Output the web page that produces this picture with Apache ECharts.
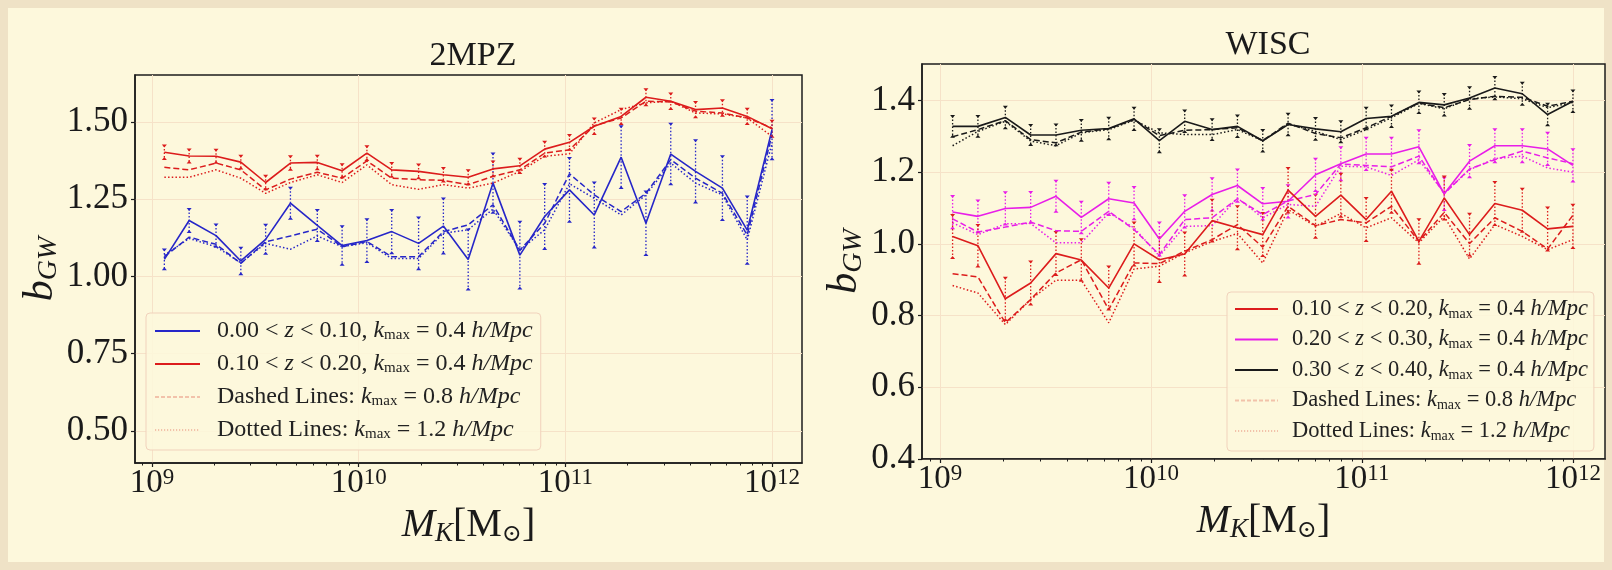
<!DOCTYPE html>
<html>
<head>
<meta charset="utf-8">
<script src="https://cdn.jsdelivr.net/npm/echarts@6/dist/echarts.min.js"></script>
<style>
html,body{margin:0;padding:0;background:#efe2c6;}
#frame{position:absolute;left:8px;top:8px;width:1596px;height:554px;background:#fdf8dc;}
#main{position:absolute;left:0;top:0;width:1612px;height:570px;}
</style>
</head>
<body>
<div id="frame"></div>
<div id="main"></div>
<script>
// ---------- data ----------
const logMass = [9.06, 9.18, 9.31, 9.43, 9.55, 9.67, 9.80, 9.92, 10.04, 10.16, 10.29, 10.41, 10.53,
                 10.65, 10.78, 10.90, 11.02, 11.14, 11.27, 11.39, 11.51, 11.63, 11.76, 11.88, 12.00];

// 2MPZ
const mpzBlueSolid  = [1.055,1.181,1.132,1.050,1.120,1.237,1.165,1.100,1.116,1.145,1.107,1.163,1.055,1.302,1.069,1.194,1.280,1.199,1.386,1.172,1.396,1.340,1.286,1.150,1.475];
const mpzBlueDashed = [1.064,1.127,1.104,1.042,1.112,1.131,1.153,1.096,1.113,1.064,1.064,1.145,1.167,1.232,1.085,1.172,1.332,1.264,1.210,1.269,1.378,1.318,1.269,1.134,1.459];
const mpzBlueDotted = [1.069,1.123,1.096,1.044,1.107,1.088,1.131,1.096,1.109,1.058,1.058,1.140,1.151,1.218,1.085,1.151,1.300,1.253,1.199,1.264,1.367,1.302,1.264,1.118,1.432];
const mpzBlueErr    = [0.032,0.037,0.036,0.043,0.047,0.050,0.050,0.062,0.069,0.070,0.084,0.089,0.097,0.096,0.108,0.105,0.103,0.105,0.100,0.103,0.098,0.101,0.103,0.109,0.096];
const mpzRedSolid   = [1.402,1.390,1.389,1.370,1.304,1.367,1.369,1.342,1.399,1.345,1.340,1.329,1.321,1.348,1.358,1.412,1.434,1.486,1.518,1.580,1.567,1.540,1.545,1.518,1.478];
const mpzRedDashed  = [1.353,1.345,1.367,1.345,1.280,1.315,1.337,1.318,1.374,1.318,1.313,1.311,1.297,1.324,1.345,1.399,1.410,1.488,1.513,1.567,1.565,1.535,1.529,1.513,1.481];
const mpzRedDotted  = [1.321,1.321,1.345,1.318,1.269,1.304,1.329,1.304,1.361,1.297,1.282,1.297,1.286,1.302,1.340,1.389,1.397,1.497,1.540,1.562,1.567,1.529,1.526,1.513,1.453];
const mpzRedErr     = [0.022,0.021,0.021,0.021,0.022,0.022,0.022,0.021,0.022,0.022,0.022,0.022,0.023,0.024,0.023,0.024,0.024,0.025,0.025,0.026,0.025,0.025,0.025,0.025,0.026];

// WISC
const wiscRedSolid   = [1.021,0.995,0.847,0.891,0.973,0.955,0.877,1.000,0.956,0.972,1.065,1.045,1.026,1.150,1.077,1.136,1.068,1.147,1.007,1.128,1.026,1.113,1.094,1.042,1.049];
const wiscRedDashed  = [0.917,0.908,0.780,0.845,0.919,0.956,0.817,0.947,0.945,0.980,1.012,1.054,0.991,1.105,1.051,1.068,1.059,1.105,1.007,1.088,1.001,1.073,1.035,0.986,1.080];
const wiscRedDotted  = [0.884,0.863,0.775,0.845,0.899,0.899,0.780,0.930,0.938,0.975,1.007,1.029,0.947,1.096,1.049,1.085,1.045,1.073,1.003,1.077,0.958,1.054,1.021,0.984,1.012];
const wiscRedErr     = [0.060,0.058,0.059,0.060,0.060,0.058,0.060,0.060,0.062,0.060,0.058,0.060,0.060,0.062,0.060,0.060,0.060,0.060,0.062,0.060,0.058,0.060,0.060,0.060,0.060];
const wiscMagSolid   = [1.089,1.077,1.099,1.102,1.133,1.074,1.126,1.114,1.014,1.091,1.138,1.163,1.112,1.119,1.193,1.224,1.251,1.251,1.271,1.140,1.231,1.274,1.274,1.265,1.219];
const wiscMagDashed  = [1.070,1.033,1.047,1.061,1.037,1.035,1.091,1.040,0.970,1.068,1.073,1.126,1.082,1.120,1.138,1.223,1.219,1.215,1.245,1.140,1.209,1.235,1.259,1.240,1.224];
const wiscMagDotted  = [1.059,1.026,1.056,1.057,1.003,1.003,1.087,1.045,0.966,1.049,1.051,1.128,1.073,1.110,1.105,1.217,1.215,1.191,1.235,1.142,1.207,1.238,1.245,1.212,1.200];
const wiscMagErr     = [0.045,0.044,0.045,0.043,0.043,0.044,0.045,0.045,0.046,0.045,0.045,0.045,0.044,0.045,0.045,0.046,0.045,0.045,0.046,0.045,0.045,0.046,0.046,0.045,0.045];
const wiscBlackSolid = [1.328,1.328,1.353,1.304,1.304,1.317,1.322,1.349,1.288,1.342,1.319,1.328,1.288,1.333,1.321,1.313,1.350,1.356,1.395,1.388,1.407,1.435,1.419,1.361,1.398];
const wiscBlackDashed= [1.299,1.319,1.344,1.291,1.282,1.312,1.321,1.347,1.302,1.317,1.319,1.324,1.288,1.337,1.308,1.296,1.324,1.356,1.393,1.380,1.403,1.412,1.409,1.384,1.398];
const wiscBlackDotted= [1.274,1.314,1.342,1.287,1.274,1.310,1.319,1.345,1.310,1.305,1.305,1.319,1.288,1.335,1.314,1.291,1.319,1.352,1.392,1.377,1.405,1.410,1.405,1.380,1.395];
const wiscBlackErr   = [0.029,0.029,0.030,0.028,0.029,0.029,0.030,0.031,0.032,0.030,0.029,0.030,0.030,0.030,0.030,0.029,0.030,0.030,0.030,0.030,0.030,0.031,0.031,0.030,0.030];

// ticks / labels
const xTickExps   = [9, 10, 11, 12];
const yTicks2MPZ  = [0.50, 0.75, 1.00, 1.25, 1.50];
const yTicksWISC  = [0.4, 0.6, 0.8, 1.0, 1.2, 1.4];
const titles      = ['2MPZ', 'WISC'];
const legendNames = {
  blue:   '0.00 < z < 0.10, kmax = 0.4 h/Mpc',
  red:    '0.10 < z < 0.20, kmax = 0.4 h/Mpc',
  mag:    '0.20 < z < 0.30, kmax = 0.4 h/Mpc',
  black:  '0.30 < z < 0.40, kmax = 0.4 h/Mpc',
  dashed: 'Dashed Lines: kmax = 0.8 h/Mpc',
  dotted: 'Dotted Lines: kmax = 1.2 h/Mpc'
};
const legendRich = {};
legendRich[legendNames.blue]   = '0.00 < {i|z} < 0.10, {i|k}{s|max} = 0.4 {i|h/Mpc}';
legendRich[legendNames.red]    = '0.10 < {i|z} < 0.20, {i|k}{s|max} = 0.4 {i|h/Mpc}';
legendRich[legendNames.mag]    = '0.20 < {i|z} < 0.30, {i|k}{s|max} = 0.4 {i|h/Mpc}';
legendRich[legendNames.black]  = '0.30 < {i|z} < 0.40, {i|k}{s|max} = 0.4 {i|h/Mpc}';
legendRich[legendNames.dashed] = 'Dashed Lines: {i|k}{s|max} = 0.8 {i|h/Mpc}';
legendRich[legendNames.dotted] = 'Dotted Lines: {i|k}{s|max} = 1.2 {i|h/Mpc}';

// ---------- styling ----------
const FONT = '"Liberation Serif", "DejaVu Serif", serif';
const C = { blue: '#2626c8', red: '#dc1c1c', mag: '#e81ee8', black: '#1a1a1a', faint: '#f2c2aa' };
const GRIDC = '#f6e2c8';
const plotBg = '#fdf8dc';

function minorTicks(lo, hi) {
  const out = [];
  for (let n = 8; n <= 12; n++) for (let k = 2; k <= 9; k++) {
    const v = n + Math.log10(k);
    if (v > lo && v < hi) out.push(v);
  }
  return out;
}
function pts(vals) { return logMass.map((m, i) => [m, vals[i]]); }
function errPts(vals, errs) { return logMass.map((m, i) => [m, vals[i] - errs[i], vals[i] + errs[i]]); }

function lineSeries(name, vals, color, kind, ax) {
  const ls = { color: color, width: kind === 'solid' ? 1.6 : 1.5, type: kind === 'solid' ? 'solid' : (kind === 'dashed' ? [6, 3] : [1.5, 2.2]) };
  return { type: 'line', name: name, xAxisIndex: ax.x, yAxisIndex: ax.y, data: pts(vals), symbol: 'none',
           lineStyle: ls, itemStyle: { color: color }, z: 3, animation: false, silent: true };
}
function errSeries(vals, errs, color, ax) {
  return {
    type: 'custom', xAxisIndex: ax.x, yAxisIndex: ax.y, data: errPts(vals, errs), z: 2, silent: true, animation: false,
    renderItem: function (params, api) {
      const x = api.value(0);
      const top = api.coord([x, api.value(2)]);
      const bot = api.coord([x, api.value(1)]);
      return { type: 'group', children: [
        { type: 'line', shape: { x1: top[0], y1: top[1], x2: bot[0], y2: bot[1] }, style: { stroke: color, lineWidth: 1.3, lineDash: [1.5, 2] } },
        { type: 'polygon', shape: { points: [[top[0] - 2.5, top[1] - 1], [top[0] + 2.5, top[1] - 1], [top[0], top[1] + 2]] }, style: { fill: color } },
        { type: 'polygon', shape: { points: [[bot[0] - 2.5, bot[1] + 1], [bot[0] + 2.5, bot[1] + 1], [bot[0], bot[1] - 2]] }, style: { fill: color } }
      ] };
    }
  };
}

const L = { x: 0, y: 0 }, R = { x: 2, y: 1 };
const grids = [
  { left: 135, top: 75, width: 667, height: 388 },
  { left: 922, top: 64, width: 683, height: 395 }
];
const xr = [[8.918, 12.145], [8.915, 12.152]];

function xAxes(gi) {
  const [lo, hi] = xr[gi];
  const nameTxt = '{i|M}{s|K}{n|[M}{s2|\u2299}{n|]}';
  return [
    { type: 'value', gridIndex: gi, min: lo, max: hi, position: 'bottom',
      axisLine: { show: true, lineStyle: { color: '#1c1c1c', width: 1.5 } },
      axisTick: { show: true, customValues: xTickExps, length: 4, lineStyle: { color: '#1c1c1c', width: 1.2 } },
      axisLabel: { show: true, customValues: xTickExps, margin: 3, color: '#1a1a1a',
        formatter: v => '{b|10}{s|' + Math.round(v) + '}',
        rich: { b: { fontFamily: FONT, fontSize: 33, lineHeight: 34, color: '#1a1a1a' },
                s: { fontFamily: FONT, fontSize: 23, lineHeight: 16, verticalAlign: 'top', color: '#1a1a1a' } } },
      splitLine: { show: true, lineStyle: { color: GRIDC, width: 1 } },
      name: nameTxt, nameLocation: 'middle', nameGap: 40,
      nameTextStyle: { rich: {
        i: { fontFamily: FONT, fontStyle: 'italic', fontSize: 40, lineHeight: 44, color: '#1a1a1a' },
        s: { fontFamily: FONT, fontStyle: 'italic', fontSize: 27, lineHeight: 27, verticalAlign: 'bottom', color: '#1a1a1a' },
        n: { fontFamily: FONT, fontSize: 40, lineHeight: 44, color: '#1a1a1a' },
        s2: { fontFamily: '"DejaVu Serif", serif', fontSize: 24, lineHeight: 26, verticalAlign: 'bottom', color: '#1a1a1a' } } }
    },
    { type: 'value', gridIndex: gi, min: lo, max: hi, position: 'bottom', offset: 0,
      axisLine: { show: false },
      axisTick: { show: true, customValues: minorTicks(lo, hi), length: 2.5, lineStyle: { color: '#1c1c1c', width: 1 } },
      axisLabel: { show: false }, splitLine: { show: false } }
  ];
}
function yAxis(gi, min, max, ticks, dec, gap) {
  return { type: 'value', gridIndex: gi, min: min, max: max,
    axisLine: { show: true, lineStyle: { color: '#1c1c1c', width: 1.5 } },
    axisTick: { show: true, customValues: ticks, length: 4, lineStyle: { color: '#1c1c1c', width: 1.2 } },
    axisLabel: { customValues: ticks, formatter: v => v.toFixed(dec), fontFamily: FONT, fontSize: 35, color: '#1a1a1a', margin: 7 },
    splitLine: { show: true, lineStyle: { color: GRIDC, width: 1 } },
    name: '{b|b}{s|GW}', nameLocation: 'middle', nameRotate: 90, nameGap: gap,
    nameTextStyle: { rich: {
      b: { fontFamily: FONT, fontStyle: 'italic', fontSize: 42, lineHeight: 44, color: '#1a1a1a' },
      s: { fontFamily: FONT, fontStyle: 'italic', fontSize: 28, lineHeight: 26, verticalAlign: 'bottom', color: '#1a1a1a' } } }
  };
}

const legendTextStyle = (fs, padL) => ({
  fontFamily: FONT, fontSize: fs, lineHeight: 24, color: '#222', padding: [0, 0, 0, padL],
  rich: { i: { fontFamily: FONT, fontStyle: 'italic', fontSize: fs, lineHeight: 24, color: '#222' },
          s: { fontFamily: FONT, fontSize: Math.round(fs * 0.62), lineHeight: 14, verticalAlign: 'bottom', color: '#222' } }
});
const legendItemStyle = { opacity: 0, color: 'transparent', borderColor: 'transparent', borderWidth: 0 };

const series = [
  errSeries(mpzBlueSolid, mpzBlueErr, C.blue, L),
  errSeries(mpzRedSolid, mpzRedErr, C.red, L),
  lineSeries(legendNames.blue, mpzBlueSolid, C.blue, 'solid', L),
  lineSeries('2MPZ blue dashed', mpzBlueDashed, C.blue, 'dashed', L),
  lineSeries('2MPZ blue dotted', mpzBlueDotted, C.blue, 'dotted', L),
  lineSeries(legendNames.red, mpzRedSolid, C.red, 'solid', L),
  lineSeries('2MPZ red dashed', mpzRedDashed, C.red, 'dashed', L),
  lineSeries('2MPZ red dotted', mpzRedDotted, C.red, 'dotted', L),
  { type: 'line', name: legendNames.dashed, data: [], symbol: 'none', lineStyle: { color: C.faint, width: 1.4, type: [4, 2] }, itemStyle: { color: C.faint } },
  { type: 'line', name: legendNames.dotted, data: [], symbol: 'none', lineStyle: { color: C.faint, width: 1.4, type: [1.2, 1.8] }, itemStyle: { color: C.faint } },

  errSeries(wiscBlackSolid, wiscBlackErr, C.black, R),
  errSeries(wiscMagSolid, wiscMagErr, C.mag, R),
  errSeries(wiscRedSolid, wiscRedErr, C.red, R),
  lineSeries(legendNames.black, wiscBlackSolid, C.black, 'solid', R),
  lineSeries('WISC black dashed', wiscBlackDashed, C.black, 'dashed', R),
  lineSeries('WISC black dotted', wiscBlackDotted, C.black, 'dotted', R),
  lineSeries(legendNames.mag, wiscMagSolid, C.mag, 'solid', R),
  lineSeries('WISC mag dashed', wiscMagDashed, C.mag, 'dashed', R),
  lineSeries('WISC mag dotted', wiscMagDotted, C.mag, 'dotted', R),
  lineSeries('WISC ' + legendNames.red, wiscRedSolid, C.red, 'solid', R),
  lineSeries('WISC red dashed', wiscRedDashed, C.red, 'dashed', R),
  lineSeries('WISC red dotted', wiscRedDotted, C.red, 'dotted', R)
];

const option = {
  backgroundColor: 'transparent',
  animation: false,
  title: [
    { text: titles[0], left: 468, top: 75 - 42, textAlign: 'center', textStyle: { fontFamily: FONT, fontSize: 34, fontWeight: 'normal', lineHeight: 36, color: '#1a1a1a' } },
    { text: titles[1], left: 1263, top: 64 - 42, textAlign: 'center', textStyle: { fontFamily: FONT, fontSize: 34, fontWeight: 'normal', lineHeight: 36, color: '#1a1a1a' } }
  ],
  grid: grids.map(g => Object.assign({ show: true, borderColor: '#1c1c1c', borderWidth: 1.5, backgroundColor: plotBg }, g)),
  xAxis: xAxes(0).concat(xAxes(1)),
  yAxis: [ yAxis(0, 0.396, 1.652, yTicks2MPZ, 2, 69), yAxis(1, 0.4, 1.502, yTicksWISC, 1, 34) ],
  legend: [
    { orient: 'vertical', left: 146, top: 313, selectedMode: false,
      data: [legendNames.blue, legendNames.red, legendNames.dashed, legendNames.dotted],
      itemWidth: 45, itemHeight: 14, itemGap: 9, padding: [6, 8, 8, 8],
      itemStyle: legendItemStyle, lineStyle: { width: 2 },
      backgroundColor: 'rgba(253,248,220,0.85)', borderColor: '#f1d2bc', borderWidth: 1, borderRadius: 4,
      formatter: n => legendRich[n], textStyle: legendTextStyle(24, 12) },
    { orient: 'vertical', left: 1227, top: 292, selectedMode: false,
      data: ['WISC ' + legendNames.red, legendNames.mag, legendNames.black, legendNames.dashed, legendNames.dotted],
      itemWidth: 43, itemHeight: 14, itemGap: 6.5, padding: [5, 6, 8, 7],
      itemStyle: legendItemStyle, lineStyle: { width: 2 },
      backgroundColor: 'rgba(253,248,220,0.85)', borderColor: '#f1d2bc', borderWidth: 1, borderRadius: 4,
      formatter: n => legendRich[n.replace('WISC ', '')], textStyle: legendTextStyle(22.5, 9) }
  ],
  series: series
};

const chart = echarts.init(document.getElementById('main'), null, { renderer: 'canvas', width: 1612, height: 570 });
chart.setOption(option);
</script>
</body>
</html>
